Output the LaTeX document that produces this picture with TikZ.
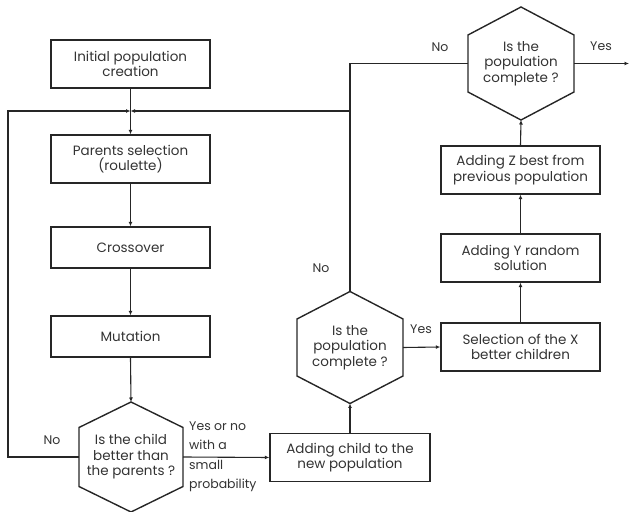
\documentclass[tikz,border=0pt]{standalone}
\usepackage{fontspec}
\setmainfont{Poppins}
\usetikzlibrary{arrows.meta,calc}
\begin{document}
\begin{tikzpicture}[x=1pt,y=1pt,
  box/.style={draw=black!85,text=black!80,line width=1.4pt,minimum width=159pt,minimum height=48pt,inner sep=0pt,align=center,font=\fontsize{13.5}{15.5}\selectfont},
  sbox/.style={box,minimum height=41pt},
  txt/.style={inner sep=0pt,text=black!80,align=center,font=\fontsize{13.5}{15.5}\selectfont},
  lbl/.style={inner sep=0pt,text=black!80,font=\fontsize{12.5}{14}\selectfont},
  hexline/.style={draw=black!85,line width=1.4pt,line join=miter},
  con/.style={draw=black!85,line width=1.1pt},
  arr/.style={con,-{Latex[length=4.5pt,width=4pt]}}]
\useasboundingbox (0,0) rectangle (630,512);
% hexagon macro: name, cx, cy, halfwidth, halfheight, halfside
\newcommand{\hexshape}[6]{%
  \coordinate (#1t) at (#2,#3+#5);
  \coordinate (#1b) at (#2,#3-#5);
  \coordinate (#1l) at (#2-#4,#3);
  \coordinate (#1r) at (#2+#4,#3);
  \draw[hexline] (#2,#3+#5) -- (#2+#4,#3+#6) -- (#2+#4,#3-#6) -- (#2,#3-#5) -- (#2-#4,#3-#6) -- (#2-#4,#3+#6) -- cycle;}
% boxes
\node[box] (init) at (130.5,448) {Initial population\\creation};
\node[box] (par) at (130.5,353) {Parents selection\\(roulette)};
\node[sbox] (cross) at (130.5,264.5) {Crossover};
\node[sbox] (mut) at (130.5,175.5) {Mutation};
\node[box,minimum width=160pt] (add) at (350,54.5) {Adding child to the\\new population};
\node[box] (sel) at (520.5,165) {Selection of the X\\better children};
\node[box] (ady) at (520.5,254) {Adding Y random\\solution};
\node[box] (adz) at (520.5,342) {Adding Z best from\\previous population};
% hexagons
\hexshape{ha}{131}{55}{52}{55}{29.5}
\node[txt] (hatx) at (131,55) {Is the child\\better than\\the parents ?};
\hexshape{hb}{350}{164.5}{53}{56}{28.5}
\node[txt] (hbtx) at (350,164.5) {Is the\\population\\complete ?};
\hexshape{hc}{521}{448.5}{53}{56.5}{28.5}
\node[txt] (hctx) at (521,448.5) {Is the\\population\\complete ?};
% junction
\coordinate (J) at (130.5,401);
\coordinate (Jr) at (350,401);
\coordinate (Jl) at (8,401);
\coordinate (haL) at (8,55);
\coordinate (hcL) at (350,448.5);
\coordinate (yesEnd) at (629,448.5);
% connectors
\draw[con] (init.south) -- (J);
\draw[arr] (J) -- (par.north);
\draw[arr] (par.south) -- (cross.north);
\draw[arr] (cross.south) -- (mut.north);
\draw[arr] (mut.south) -- (hat);
\draw[arr] (har) -- (add.west);
\draw[arr] (hal) -- (haL) -- (Jl) -- (J);
\draw[arr] (add.north) -- (hbb);
\draw[arr] (hbr) -- (sel.west);
\draw[arr] (hbt) -- (Jr) -- (J);
\draw[con] (hcl) -- (hcL) -- (Jr);
\draw[arr] (sel.north) -- (ady.south);
\draw[arr] (ady.north) -- (adz.south);
\draw[arr] (adz.north) -- (hcb);
\draw[arr] (hcr) -- (yesEnd);
% labels
\node[lbl] (l1) at (440,465) {No};
\node[lbl] (l2) at (601,466) {Yes};
\node[lbl] (l3) at (52,72) {No};
\node[lbl] (l4) at (321,244) {No};
\node[lbl] (l5) at (421,183) {Yes};
\node[lbl,anchor=west,align=left,font=\fontsize{12.5}{19.5}\selectfont] (l6) at (189,55) {Yes or no\\with a\\small\\probability};
\end{tikzpicture}
\end{document}
